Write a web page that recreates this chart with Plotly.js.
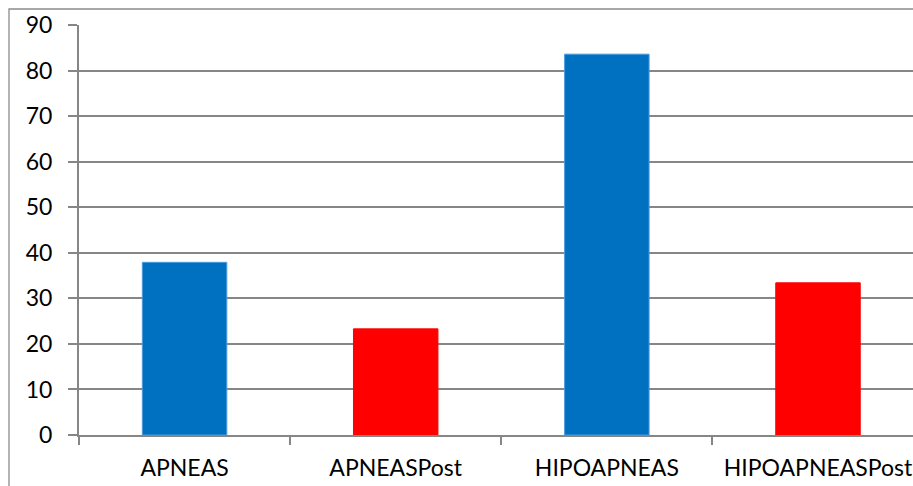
<!DOCTYPE html>
<html>
<head>
<meta charset="utf-8">
<script src="https://cdn.plot.ly/plotly-3.0.1.min.js"></script>
<style>
  html, body { margin: 0; padding: 0; background: #fff; }
  #chart { width: 913px; height: 486px; }
</style>
</head>
<body>
<div id="chart"></div>
<script>
// Apnea / hypopnea counts, before and after
const categories = ["APNEAS", "APNEASPost", "HIPOAPNEAS", "HIPOAPNEASPost"];
const values = [37.9, 23.3, 83.6, 33.4];
const barColors = ["#0070C0", "#FF0000", "#0070C0", "#FF0000"];
const edgeColors = ["#4a9bdc", "#FF0000", "#4a9bdc", "#FF0000"];
const yTicks = [0, 10, 20, 30, 40, 50, 60, 70, 80, 90];

const gray = "#868686";
const font = { family: "Lato, 'Liberation Sans', sans-serif", size: 23, color: "#000" };

const trace = {
  type: "bar",
  x: categories,
  y: values,
  width: 0.4,
  marker: { color: barColors, line: { color: edgeColors, width: 1 } },
  hoverinfo: "x+y"
};

const layout = {
  width: 913,
  height: 486,
  margin: { l: 79, r: 0, t: 25, b: 51 },
  paper_bgcolor: "#fff",
  plot_bgcolor: "#fff",
  showlegend: false,
  font: font,
  xaxis: {
    type: "category",
    range: [-0.5, 3.45],
    tickson: "boundaries",
    ticks: "outside",
    ticklen: 8,
    tickwidth: 2,
    tickcolor: gray,
    showline: true,
    linecolor: gray,
    linewidth: 2,
    showgrid: false,
    zeroline: false,
    ticklabelstandoff: 11,
    tickfont: font
  },
  yaxis: {
    range: [0, 90],
    tickmode: "array",
    tickvals: yTicks,
    ticktext: yTicks.map(String),
    ticks: "outside",
    ticklen: 9,
    tickwidth: 2,
    tickcolor: gray,
    showline: true,
    linecolor: gray,
    linewidth: 2,
    showgrid: true,
    gridcolor: gray,
    gridwidth: 2,
    zeroline: false,
    ticklabelstandoff: 11,
    tickfont: font
  },
  shapes: [{
    // chart-area frame
    type: "rect",
    xref: "paper", yref: "paper",
    x0: (9 - 79) / 834, x1: 1.2,
    y0: -0.3, y1: (435 - 9) / 410,
    line: { color: "#8c8c8c", width: 1.3 },
    fillcolor: "rgba(0,0,0,0)",
    layer: "below"
  }]
};

Plotly.newPlot("chart", [trace], layout, { displayModeBar: false, staticPlot: true });
</script>
</body>
</html>
